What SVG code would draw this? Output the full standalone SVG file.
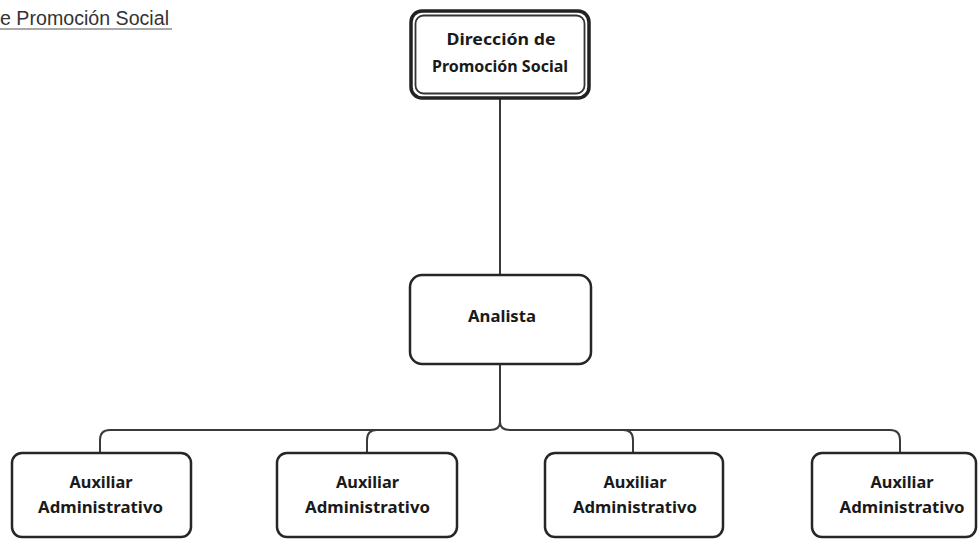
<svg xmlns="http://www.w3.org/2000/svg" width="980" height="540" viewBox="0 0 980 540">
<style>
.box{fill:#fff;stroke:#262626;stroke-width:2.5}
.lbl{font-family:"Noto Sans","Open Sans",sans-serif;font-weight:bold;font-size:16px;fill:#1a1a1a;text-anchor:middle}
.con{fill:none;stroke:#3a3a3a;stroke-width:2}
.title{font-family:"Liberation Sans",Arial,sans-serif;font-size:19.5px;fill:#333}
</style>
<rect width="980" height="540" fill="#fff"/>
<g id="title">
<text class="title" x="0" y="25" textLength="169" lengthAdjust="spacingAndGlyphs">e Promoción Social</text>
<line x1="0" y1="29" x2="172" y2="29" stroke="#555" stroke-width="1.2"/>
</g>
<g id="connectors">
<line class="con" x1="500" y1="98" x2="500" y2="275" stroke-width="1.5"/>
<path class="con" d="M500,364 V422"/>
<path class="con" d="M500,422 Q500,430 490,430 H110 Q100,430 100,440 V453"/>
<path class="con" d="M500,422 Q500,430 510,430 H890 Q900,430 900,440 V453"/>
<path class="con" d="M367,453 V440 Q367,430 377,430"/>
<path class="con" d="M633,453 V440 Q633,430 623,430"/>
</g>
<g id="direccion">
<rect x="411" y="11" width="178" height="87" rx="11" fill="#fff" stroke="#222" stroke-width="3.5"/>
<rect x="415.5" y="15.5" width="169" height="78" rx="8" fill="none" stroke="#333" stroke-width="1.8"/>
<text class="lbl" x="501" y="45" textLength="109" lengthAdjust="spacingAndGlyphs">Dirección de</text>
<text class="lbl" x="500" y="72" textLength="136" lengthAdjust="spacingAndGlyphs">Promoción Social</text>
</g>
<g id="analista">
<rect class="box" x="410" y="275" width="181" height="89" rx="12"/>
<text class="lbl" x="502" y="322" textLength="68" lengthAdjust="spacingAndGlyphs">Analista</text>
</g>
<g id="auxiliar1">
<rect class="box" x="12" y="453" width="179" height="84" rx="10"/>
<text class="lbl" x="101" y="488" textLength="63" lengthAdjust="spacingAndGlyphs">Auxiliar</text>
<text class="lbl" x="100.5" y="513" textLength="125" lengthAdjust="spacingAndGlyphs">Administrativo</text>
</g>
<g id="auxiliar2">
<rect class="box" x="277" y="453" width="180" height="84" rx="10"/>
<text class="lbl" x="367.5" y="488" textLength="63" lengthAdjust="spacingAndGlyphs">Auxiliar</text>
<text class="lbl" x="367.5" y="513" textLength="125" lengthAdjust="spacingAndGlyphs">Administrativo</text>
</g>
<g id="auxiliar3">
<rect class="box" x="545" y="453" width="178" height="84" rx="10"/>
<text class="lbl" x="635" y="488" textLength="63" lengthAdjust="spacingAndGlyphs">Auxiliar</text>
<text class="lbl" x="635" y="513" textLength="124" lengthAdjust="spacingAndGlyphs">Administrativo</text>
</g>
<g id="auxiliar4">
<rect class="box" x="812" y="453" width="164" height="84" rx="10"/>
<text class="lbl" x="902" y="488" textLength="63" lengthAdjust="spacingAndGlyphs">Auxiliar</text>
<text class="lbl" x="902" y="513" textLength="125" lengthAdjust="spacingAndGlyphs">Administrativo</text>
</g>
</svg>
